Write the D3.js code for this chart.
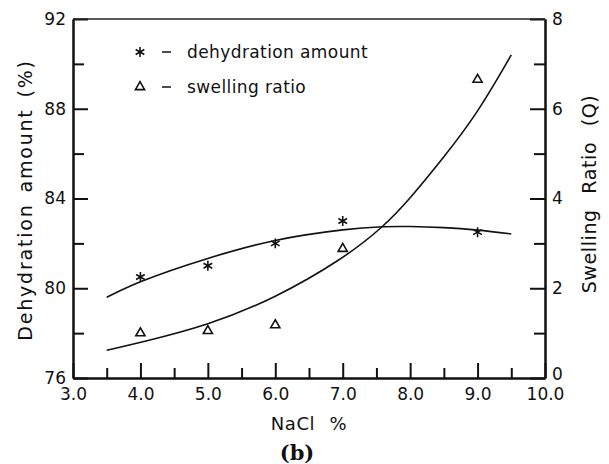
<!DOCTYPE html>
<html>
<head>
<meta charset="utf-8">
<script src="https://cdn.jsdelivr.net/npm/d3@7"></script>
<style>
  html, body { margin: 0; padding: 0; background: #fff; }
  svg { display: block; }
  text { font-family: "DejaVu Sans", "Liberation Sans", sans-serif; fill: #111; }
</style>
</head>
<body>
<svg id="chart" width="609" height="464"></svg>
<script>
// Measured NaCl concentrations (%)
const nacl = [4.0, 5.0, 6.0, 7.0, 9.0];
// Dehydration amount (%) — left axis
const dehydration = [80.5, 81.0, 82.0, 83.0, 82.5];
// Swelling ratio Q — right axis
const swelling = [1.0, 1.05, 1.18, 2.88, 6.65];

// Fitted trend curves, sampled along NaCl %
const fitX = [3.5, 4.0, 5.0, 6.0, 7.0, 7.6, 8.0, 8.5, 9.0, 9.5];
const dehydrationFit = [79.6, 80.29, 81.33, 82.13, 82.6, 82.74, 82.75, 82.7, 82.59, 82.42];
const swellingFit = [0.62, 0.79, 1.17, 1.78, 2.65, 3.36, 4.0, 4.92, 5.9, 7.2];

// Axis ticks
const xMajor = [3, 4, 5, 6, 7, 8, 9, 10];
const xMinor = [3.5, 4.5, 5.5, 6.5, 7.5, 8.5, 9.5];
const leftMajor = [76, 80, 84, 88, 92];
const leftMinor = [78, 82, 86, 90];
const rightMajor = [0, 2, 4, 6, 8];
const rightMinor = [1, 3, 5, 7];

const svg = d3.select("#chart");
const L = 73, R = 545, T = 19, B = 378;

const x = d3.scaleLinear().domain([3, 10]).range([L, R]);
const yL = d3.scaleLinear().domain([76, 92]).range([B, T]);
const yR = d3.scaleLinear().domain([0, 8]).range([B, T]);

const fontSize = 17;

function styleAxis(g) {
  g.selectAll("path.domain").attr("stroke", "#111").attr("stroke-width", 2);
  g.selectAll(".tick line").attr("stroke", "#111").attr("stroke-width", 2);
  g.selectAll("text").attr("font-size", fontSize)
    .attr("font-family", "DejaVu Sans, Liberation Sans, sans-serif").attr("fill", "#111");
}

// Bottom axis: major ticks with labels, minor ticks without
svg.append("g").attr("transform", `translate(0,${B})`)
  .call(d3.axisBottom(x).tickValues(xMajor).tickSizeInner(-15).tickSizeOuter(0)
    .tickPadding(10).tickFormat(d3.format(".1f")))
  .call(styleAxis);
svg.append("g").attr("transform", `translate(0,${B})`)
  .call(d3.axisBottom(x).tickValues(xMinor).tickSizeInner(-10).tickSizeOuter(0).tickFormat(""))
  .call(styleAxis);

// Left axis
svg.append("g").attr("transform", `translate(${L},0)`)
  .call(d3.axisLeft(yL).tickValues(leftMajor).tickSizeInner(-15).tickSizeOuter(0).tickPadding(7))
  .call(styleAxis);
svg.append("g").attr("transform", `translate(${L},0)`)
  .call(d3.axisLeft(yL).tickValues(leftMinor).tickSizeInner(-11).tickSizeOuter(0).tickFormat(""))
  .call(styleAxis);

// Right axis
const rightAxis = svg.append("g").attr("transform", `translate(${R},0)`)
  .call(d3.axisRight(yR).tickValues(rightMajor).tickSizeInner(-15).tickSizeOuter(0).tickPadding(7))
  .call(styleAxis);
// lift the "0" label a little so it clears the 10.0 label below
rightAxis.selectAll(".tick").filter(d => d === 0).select("text").attr("dy", "0.1em");
svg.append("g").attr("transform", `translate(${R},0)`)
  .call(d3.axisRight(yR).tickValues(rightMinor).tickSizeInner(-11).tickSizeOuter(0).tickFormat(""))
  .call(styleAxis);

// Top frame line
svg.append("line").attr("x1", L).attr("x2", R).attr("y1", T).attr("y2", T)
  .attr("stroke", "#222").attr("stroke-width", 1.5);

// Fitted curves
const lineL = d3.line().x((d, i) => x(fitX[i])).y(d => yL(d)).curve(d3.curveCatmullRom);
const lineR = d3.line().x((d, i) => x(fitX[i])).y(d => yR(d)).curve(d3.curveBasis);
svg.append("path").attr("d", lineL(dehydrationFit))
  .attr("fill", "none").attr("stroke", "#111").attr("stroke-width", 1.6);
svg.append("path").attr("d", lineR(swellingFit))
  .attr("fill", "none").attr("stroke", "#111").attr("stroke-width", 1.6);

// Markers
const starPath = d3.symbol().type(d3.symbolAsterisk).size(70);
const triPath = d3.symbol().type(d3.symbolTriangle2).size(60);

function star(g, cx, cy) {
  g.append("path").attr("d", starPath()).attr("transform", `translate(${cx},${cy})`)
    .attr("fill", "none").attr("stroke", "#111").attr("stroke-width", 1.6);
}
function tri(g, cx, cy) {
  g.append("path").attr("d", triPath()).attr("transform", `translate(${cx},${cy})`)
    .attr("fill", "none").attr("stroke", "#111").attr("stroke-width", 1.6);
}

const marks = svg.append("g");
nacl.forEach((v, i) => star(marks, x(v), yL(dehydration[i])));
nacl.forEach((v, i) => tri(marks, x(v), yR(swelling[i])));

// Legend
const leg = svg.append("g");
star(leg, 140, 52);
tri(leg, 140, 87);
[52, 87].forEach(yy => leg.append("line").attr("x1", 162).attr("x2", 171)
  .attr("y1", yy).attr("y2", yy).attr("stroke", "#111").attr("stroke-width", 1.5));
leg.append("text").attr("x", 187).attr("y", 52).attr("dy", "0.35em")
  .attr("font-size", 17).attr("letter-spacing", "0.4px").text("dehydration amount");
leg.append("text").attr("x", 187).attr("y", 87).attr("dy", "0.35em")
  .attr("font-size", 17).attr("letter-spacing", "0.4px").text("swelling ratio");

// Axis titles
svg.append("text").attr("transform", "translate(25,200) rotate(-90)")
  .attr("text-anchor", "middle").attr("dy", "0.35em").attr("font-size", 19)
  .attr("letter-spacing", "1.8px").attr("word-spacing", "3px")
  .text("Dehydration amount (%)");
svg.append("text").attr("transform", "translate(589,194) rotate(-90)")
  .attr("text-anchor", "middle").attr("dy", "0.35em").attr("font-size", 19)
  .attr("letter-spacing", "0.6px").attr("word-spacing", "9px")
  .text("Swelling Ratio (Q)");
svg.append("text").attr("x", 309).attr("y", 424).attr("text-anchor", "middle")
  .attr("dy", "0.35em").attr("font-size", 18).attr("letter-spacing", "0.6px")
  .attr("word-spacing", "8px").text("NaCl %");
svg.append("text").attr("x", 297).attr("y", 453).attr("text-anchor", "middle")
  .attr("dy", "0.35em").attr("font-size", 21).attr("font-weight", "bold")
  .style("font-family", "'DejaVu Serif', 'Liberation Serif', serif").text("(b)");
</script>
</body>
</html>
